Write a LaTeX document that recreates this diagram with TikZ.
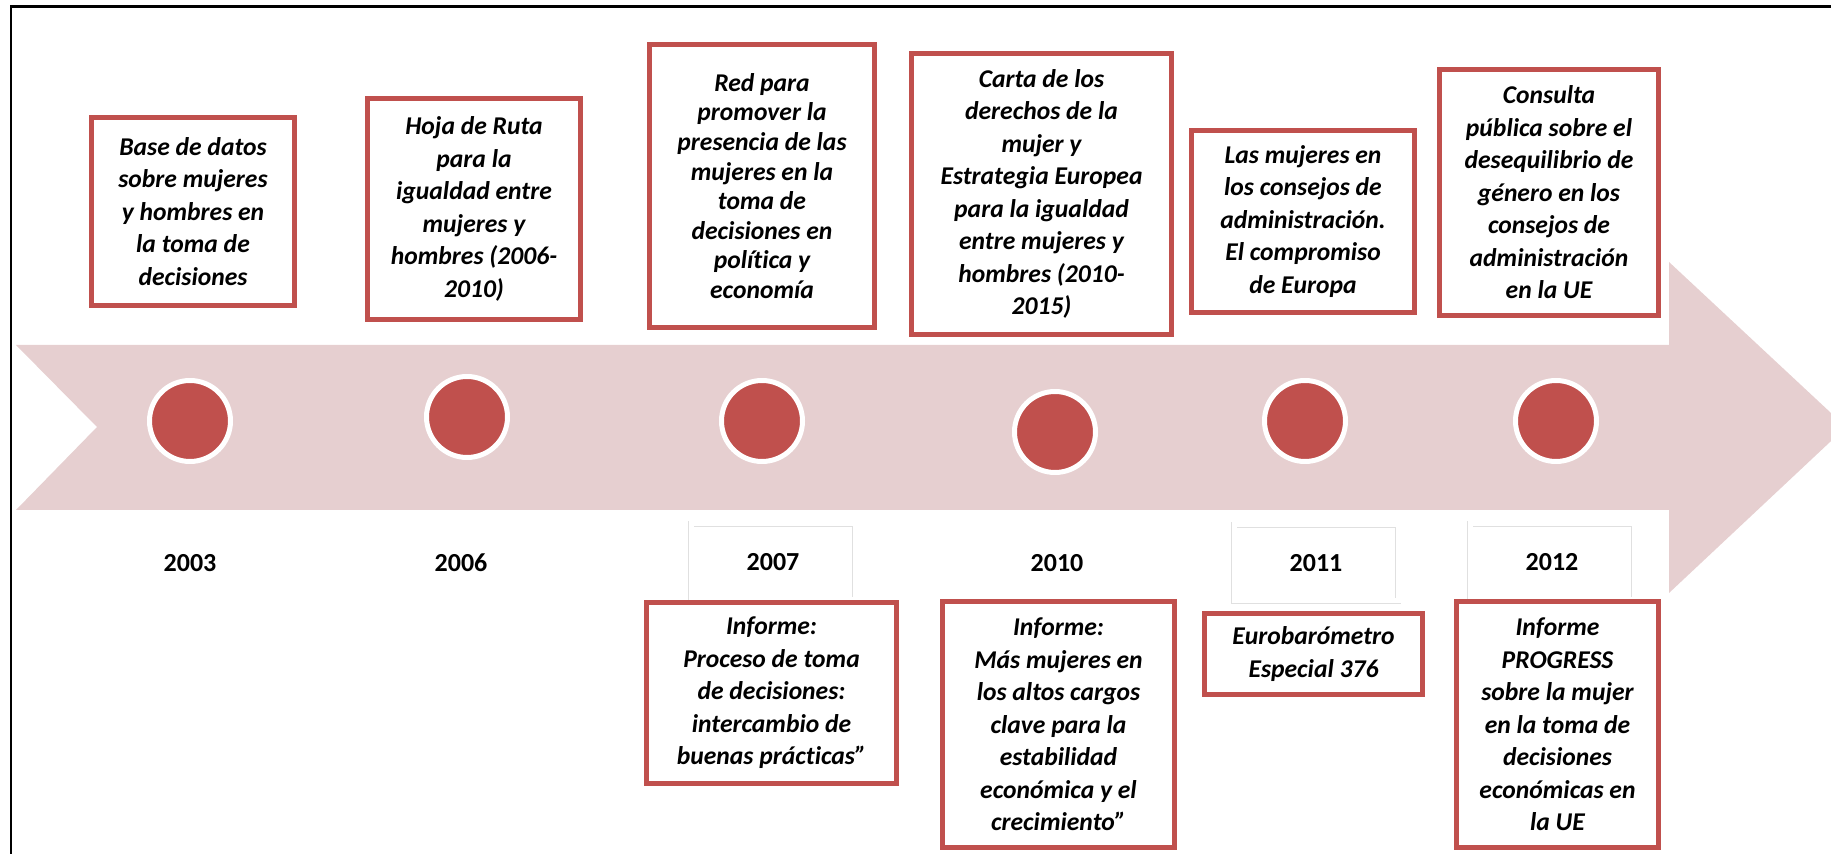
\documentclass[tikz,border=0pt]{standalone}
\usepackage{fontspec}
\setmainfont{Carlito}[Ligatures={NoCommon}]
\definecolor{boxred}{RGB}{192,80,77}
\definecolor{bandpink}{RGB}{230,207,208}
\tikzset{
	event/.style={
			draw=boxred, line width=2.5pt, fill=white, align=center, inner sep=2pt,
			font=\fontsize{12.8pt}{16.25pt}\selectfont\bfseries\itshape
		},
	milestone/.style={
			circle, fill=boxred, draw=white, line width=2.5pt,
			minimum size=40.5pt, inner sep=0pt
		},
	year/.style={font=\fontsize{13pt}{15pt}\selectfont\bfseries},
	yearbox/.style={
			year, draw=black!12, double=white, double distance=2.5pt, line width=0.4pt,
			minimum width=82pt, minimum height=38pt
		}
}

\begin{document}
\begin{tikzpicture}[x=0.5pt, y=-0.5pt]
	% Page size
	\useasboundingbox (0,0) rectangle (1831,854);

	% Frame, only its top and left edges show
	\draw[line width=1.2pt] (10.7,854) -- (10.7,6.7) -- (1831,6.7);

	% Draw the arrow band
	\fill[bandpink] (16,345) -- (1669,345) -- (1669,262) -- (1846,427)
		-- (1669,593) -- (1669,510) -- (16,510) -- (97,427) -- cycle;

	% Milestones on the band
	\node[milestone] (m2003) at (190,421) {};
	\node[milestone] (m2006) at (467,417) {};
	\node[milestone] (m2007) at (762,421) {};
	\node[milestone] (m2010) at (1055,432) {};
	\node[milestone] (m2011) at (1305,421) {};
	\node[milestone] (m2012) at (1556,421) {};

	% Years
	\node[year] (y2003) at (190,563) {2003};
	\node[year] (y2006) at (461,563) {2006};
	\node[yearbox] (y2007) at (773,562) {2007};
	\node[year] (y2010) at (1057,563) {2010};
	\node[yearbox] (y2011) at (1316,563) {2011};
	\node[yearbox] (y2012) at (1552,562) {2012};

	% Events above the band
	\node[event, minimum width=101.5pt, minimum height=94pt] (e2003) at (193,211.5)
		{Base de datos\\sobre mujeres\\y hombres en\\la toma de\\decisiones};
	\node[event, minimum width=106.5pt, minimum height=110.5pt] (e2006) at (474,209)
		{Hoja de Ruta\\para la\\igualdad entre\\mujeres y\\hombres (2006-\\2010)};
	\node[event, minimum width=112.5pt, minimum height=141.5pt,
		font=\fontsize{12.8pt}{14.8pt}\selectfont\bfseries\itshape] (e2007) at (762,186)
		{Red para\\promover la\\presencia de las\\mujeres en la\\toma de\\decisiones en\\política y\\economía};
	\node[event, minimum width=130pt, minimum height=140.5pt] (e2010) at (1041.5,194)
		{Carta de los\\derechos de la\\mujer y\\Estrategia Europea\\para la igualdad\\entre mujeres y\\hombres (2010-\\2015)};
	\node[event, minimum width=111.5pt, minimum height=91pt] (e2011) at (1303,221.5)
		{Las mujeres en\\los consejos de\\administración.\\El compromiso\\de Europa};
	\node[event, minimum width=109.5pt, minimum height=123pt] (e2012) at (1549,192.5)
		{Consulta\\pública sobre el\\desequilibrio de\\género en los\\consejos de\\administración\\en la UE};

	% Reports below the band
	\node[event, minimum width=125pt, minimum height=90.5pt] (r2007) at (771.5,693)
		{Informe:\\Proceso de toma\\de decisiones:\\intercambio de\\buenas prácticas”};
	\node[event, minimum width=116pt, minimum height=123pt] (r2010) at (1058.5,724.5)
		{Informe:\\Más mujeres en\\los altos cargos\\clave para la\\estabilidad\\económica y el\\crecimiento”};
	\node[event, minimum width=109pt, minimum height=40.5pt] (r2011) at (1313.5,654)
		{Eurobarómetro\\Especial 376};
	\node[event, minimum width=101pt, minimum height=123pt] (r2012) at (1557.5,724.5)
		{Informe\\PROGRESS\\sobre la mujer\\en la toma de\\decisiones\\económicas en\\la UE};
\end{tikzpicture}
\end{document}
